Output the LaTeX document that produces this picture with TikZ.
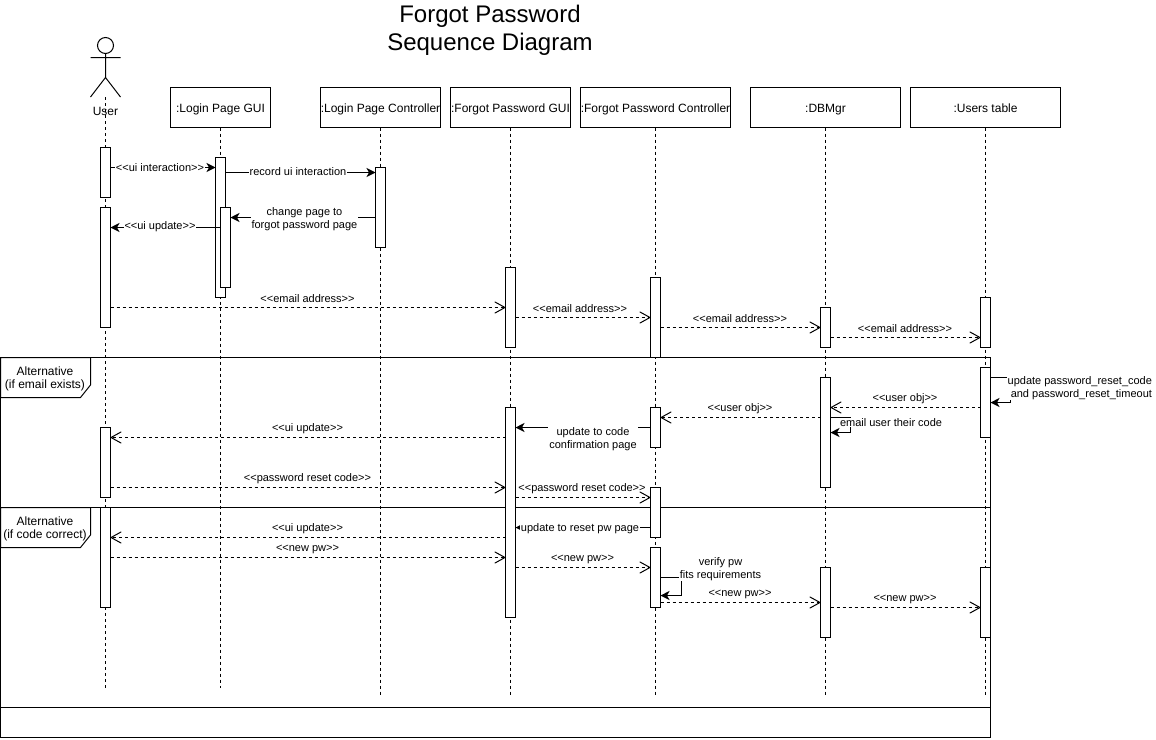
\documentclass[tikz,border=0pt]{standalone}
\usepackage{fontspec}
\setmainfont{Liberation Sans}
\usetikzlibrary{arrows.meta}
\tikzset{
  x=1pt,y=-1pt,
  every node/.style={font=\fontsize{12}{13}\selectfont,inner sep=0pt,outer sep=0pt,align=center},
  headbox/.style={draw,line width=1pt,fill=white,minimum height=40pt,text height=10pt,text depth=1pt},
  life/.style={line width=1pt,dash pattern=on 3pt off 3pt},
  actbox/.style={draw,line width=1pt,fill=white,minimum width=10pt},
  sync/.style={line width=1pt,-{Stealth[length=9pt,width=9pt,inset=2.5pt]}},
  reply/.style={line width=1pt,dash pattern=on 3pt off 3pt,-{Straight Barb[length=10pt,width=11pt,round=false]}},
  lbl/.style={font=\fontsize{11}{13}\selectfont,fill=white,inner sep=1pt},
  free/.style={font=\fontsize{11}{13}\selectfont,yshift=-0.5pt},
  txt/.style={font=\fontsize{11}{13}\selectfont,fill=white,inner xsep=1pt},
  framepen/.style={line width=1pt}
}
\newcommand{\actv}[4]{\node[actbox,minimum height={#4-#3}] (#1) at (#2,{(#3+#4)/2}) {};}
\begin{document}
\begin{tikzpicture}
\useasboundingbox (0,0) rectangle (1156,739);
% title
\node[font=\fontsize{24}{28}\selectfont] (title) at (490,30) {Forgot Password\\Sequence Diagram};
% frame
\draw[framepen] (0.5,357.5) rectangle (990.5,737.5);
\draw[framepen] (0.5,507.5) -- (990.5,507.5);
\draw[framepen] (0.5,707.5) -- (990.5,707.5);
\draw[framepen,fill=white] (0.5,357.5) -- (90.5,357.5) -- (90.5,385) -- (80.5,397.5) -- (0.5,397.5) -- cycle;
\draw[framepen,fill=white] (0.5,507.5) -- (90.5,507.5) -- (90.5,535) -- (80.5,547.5) -- (0.5,547.5) -- cycle;
\node (alt1) at (45,379) {Alternative\\(if email exists)};
\node (alt2) at (45,529) {Alternative\\(if code correct)};
% actor
\node[draw,circle,line width=1pt,minimum size=16pt,fill=white] (head) at (105.5,45.5) {};
\coordinate (hip) at (105.5,77.5);
\coordinate (armL) at (90.5,57.5);
\coordinate (armR) at (120.5,57.5);
\coordinate (legL) at (90.5,97);
\coordinate (legR) at (120.5,97);
\coordinate (uTop) at (105.5,97);
\draw[line width=1pt] (head) -- (hip) (armL) -- (armR) (legL) -- (hip) -- (legR);
\node (uLabel) at (105.5,111.5) {User};
% headers
\node[headbox,minimum width=100pt] (h2) at (220.5,107.5) {:Login Page GUI};
\node[headbox,minimum width=120pt] (h3) at (380.5,107.5) {:Login Page Controller};
\node[headbox,minimum width=120pt] (h4) at (510.5,107.5) {:Forgot Password GUI};
\node[headbox,minimum width=150pt] (h5) at (655.5,107.5) {:Forgot Password Controller};
\node[headbox,minimum width=150pt] (h6) at (825.5,107.5) {:DBMgr};
\node[headbox,minimum width=150pt] (h7) at (985.5,107.5) {:Users table};
% lifelines
\coordinate (e1) at (105.5,688);
\coordinate (e2) at (220.5,688);
\coordinate (e3) at (380.5,695);
\coordinate (e4) at (510.5,695);
\coordinate (e5) at (655.5,695);
\coordinate (e6) at (825.5,695);
\coordinate (e7) at (985.5,695);
\draw[life] (uTop) -- (e1);
\draw[life] (h2) -- (e2);
\draw[life] (h3) -- (e3);
\draw[life] (h4) -- (e4);
\draw[life] (h5) -- (e5);
\draw[life] (h6) -- (e6);
\draw[life] (h7) -- (e7);
% activations
\actv{ua}{105.5}{147.5}{197.5}
\actv{ub}{105.5}{207.5}{327.5}
\actv{uc}{105.5}{427.5}{497.5}
\actv{ud}{105.5}{507.5}{607.5}
\actv{ga}{220.5}{157.5}{297.5}
\actv{gb}{225.5}{207.5}{287.5}
\actv{ca}{380.5}{167.5}{247.5}
\actv{fa}{510.5}{267.5}{347.5}
\actv{fb}{510.5}{407.5}{617.5}
\actv{pa}{655.5}{277.5}{357.5}
\actv{pb}{655.5}{407.5}{447.5}
\actv{pc}{655.5}{487.5}{537.5}
\actv{pd}{655.5}{547.5}{607.5}
\actv{da}{825.5}{307.5}{347.5}
\actv{db}{825.5}{377.5}{487.5}
\actv{dc}{825.5}{567.5}{637.5}
\actv{ta}{985.5}{297.5}{347.5}
\actv{tb}{985.5}{367.5}{437.5}
\actv{tc}{985.5}{567.5}{637.5}
% solid messages
\draw[sync] (ua.east |- 0,167.5) -- node[lbl,xshift=-3pt] (m1) {<{}<ui interaction>{}>} (ga.west |- 0,167.5);
\draw[sync] (ga.east |- 0,172.5) -- node[txt,xshift=-2.5pt,yshift=0.5pt] (m2) {record ui interaction} (ca.west |- 0,172.5);
\draw[sync] (ca.west |- 0,217.5) -- node[txt,pos=0.49,yshift=-2pt] (m3) {change page to\\forgot password page} (gb.east |- 0,217.5);
\draw[sync] (gb.west |- 0,227.5) -- node[lbl,pos=0.55,yshift=0.5pt] (m4) {<{}<ui update>{}>} (ub.east |- 0,227.5);
\draw[sync] (pb.west |- 0,427.5) -- node[txt,xshift=10pt,yshift=-12pt,inner ysep=3pt] (m5) {update to code\\confirmation page} (fb.east |- 0,427.5);
\draw[sync] (pc.west |- 0,527.5) -- node[lbl,xshift=-3pt,yshift=-1pt] (m6) {update to reset pw page} (fb.east |- 0,527.5);
% self messages
\draw[sync] (tb.east |- 0,377.5) -- ++(20,0) -- ++(0,25) -- (tb.east |- 0,402.5);
\node[txt,align=right,anchor=east] (s1) at (1153,388) {update password\_reset\_code\\and password\_reset\_timeout};
\draw[sync] (db.east |- 0,417.5) -- ++(20,0) -- ++(0,15) -- (db.east |- 0,432.5);
\node[txt,anchor=west] (s2) at (839,422.5) {email user their code};
\draw[sync] (pd.east |- 0,577.5) -- ++(21,0) -- ++(0,18) -- (pd.east |- 0,595.5);
\node[txt,anchor=center] (s3) at (720.5,569) {verify pw\\fits requirements};
% reply messages
\draw[reply] (ub.east |- 0,307.5) -- (fa.west |- 0,307.5);
\node[free] (r1) at (307.5,298.5) {<{}<email address>{}>};
\draw[reply] (fa.east |- 0,317.5) -- (pa.west |- 0,317.5);
\node[free] (r2) at (580,308.5) {<{}<email address>{}>};
\draw[reply] (pa.east |- 0,327.5) -- (da.west |- 0,327.5);
\node[free] (r3) at (740,318.5) {<{}<email address>{}>};
\draw[reply] (da.east |- 0,337.5) -- (ta.west |- 0,337.5);
\node[free] (r4) at (905,328.5) {<{}<email address>{}>};
\draw[reply] (tb.west |- 0,407.5) -- (db.east |- 0,407.5);
\node[free] (r5) at (905,398.5) {<{}<user obj>{}>};
\draw[reply] (db.west |- 0,417.5) -- (pb.east |- 0,417.5);
\node[free] (r6) at (740,408.5) {<{}<user obj>{}>};
\draw[reply] (fb.west |- 0,437.5) -- (uc.east |- 0,437.5);
\node[free] (r7) at (307.5,428.5) {<{}<ui update>{}>};
\draw[reply] (uc.east |- 0,487.5) -- (fb.west |- 0,487.5);
\node[free] (r8) at (307.5,478.5) {<{}<password reset code>{}>};
\draw[reply] (fb.east |- 0,497.5) -- (pc.west |- 0,497.5);
\node[free] (r9) at (582,488.5) {<{}<password reset code>{}>};
\draw[reply] (fb.west |- 0,537.5) -- (ud.east |- 0,537.5);
\node[free] (r10) at (307.5,528.5) {<{}<ui update>{}>};
\draw[reply] (ud.east |- 0,557.5) -- (fb.west |- 0,557.5);
\node[free] (r11) at (307.5,548.5) {<{}<new pw>{}>};
\draw[reply] (fb.east |- 0,567.5) -- (pd.west |- 0,567.5);
\node[free] (r12) at (582.5,558.5) {<{}<new pw>{}>};
\draw[reply] (pd.east |- 0,602.5) -- (dc.west |- 0,602.5);
\node[free] (r13) at (740,593.5) {<{}<new pw>{}>};
\draw[reply] (dc.east |- 0,607.5) -- (tc.west |- 0,607.5);
\node[free] (r14) at (905,598.5) {<{}<new pw>{}>};
\end{tikzpicture}
\end{document}
